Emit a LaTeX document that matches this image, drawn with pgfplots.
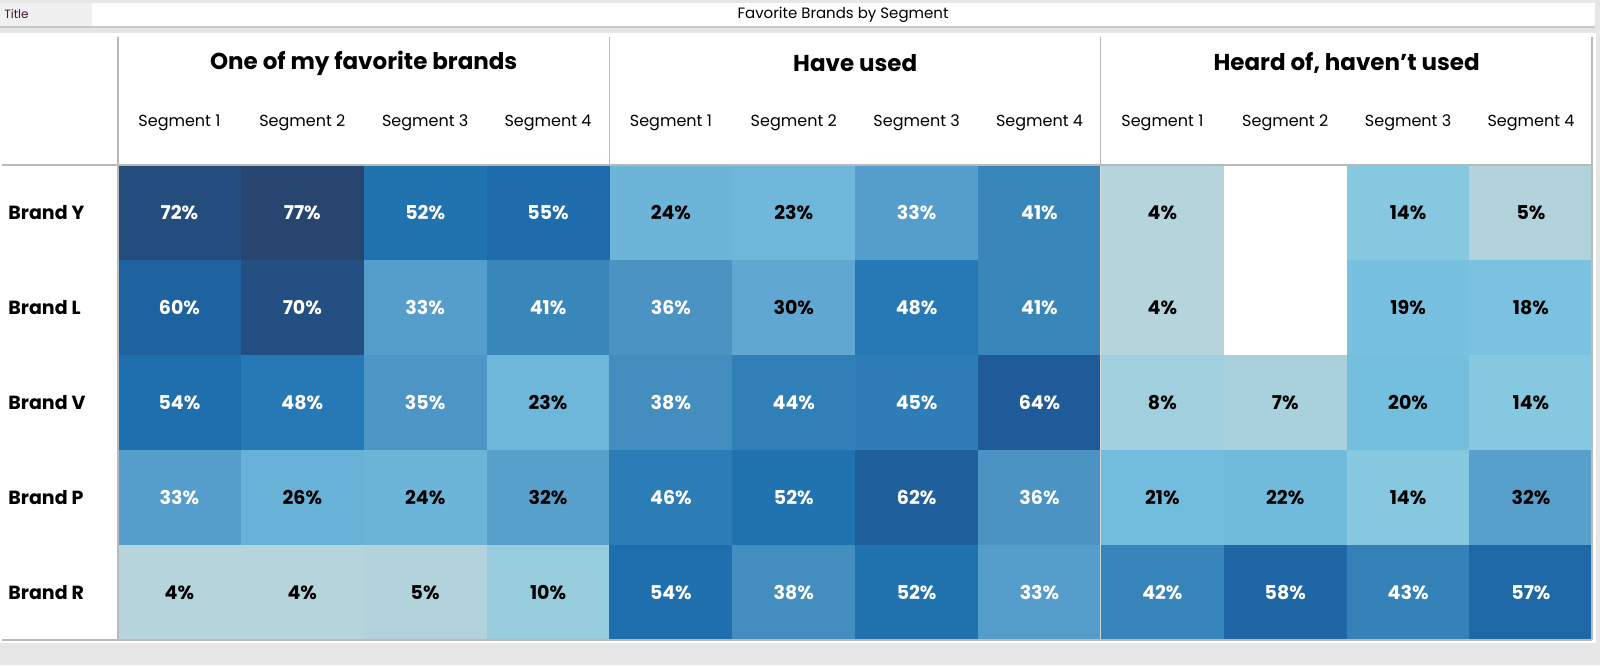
\documentclass[border=0pt]{standalone}
\usepackage{fontspec}
\setmainfont{Poppins}
\usepackage{pgfplots}
\usepackage{pgfplotstable}
\pgfplotsset{compat=1.18}
\definecolor{bggray}{RGB}{230,230,230}
\definecolor{linegray}{RGB}{185,185,185}
\definecolor{titlebox}{RGB}{240,240,240}
\definecolor{titletxt}{RGB}{70,20,60}
\definecolor{cellcol}{rgb}{1,1,1}
\pgfdeclareplotmark{nothing}{}
% x = column (0..11), y = row (4 = Brand Y ... 0 = Brand R), v = percent, r g b = cell shade
\pgfplotstableread{
x y v r g b
0 4 72 36 76 124
1 4 77 39 69 110
2 4 52 33 115 176
3 4 55 30 108 171
4 4 24 108 181 217
5 4 23 110 183 218
6 4 33 85 157 202
7 4 41 57 135 186
8 4 4 181 212 219
10 4 14 134 200 224
11 4 5 178 211 219
0 3 60 30 99 160
1 3 70 35 79 130
2 3 33 85 157 202
3 3 41 57 135 186
4 3 36 74 147 194
5 3 30 96 168 210
6 3 48 39 121 181
7 3 41 57 135 186
8 3 4 181 212 219
10 3 19 119 192 223
11 3 18 122 194 223
0 2 54 31 110 173
1 2 48 39 121 181
2 2 35 77 149 196
3 2 23 110 183 218
4 2 38 67 142 191
5 2 44 49 127 183
6 2 45 46 125 182
7 2 64 31 91 152
8 2 8 162 207 221
9 2 7 168 209 220
10 2 20 116 190 222
11 2 14 134 200 224
0 1 33 85 157 202
1 1 26 104 177 215
2 1 24 108 181 217
3 1 32 88 160 204
4 1 46 44 124 182
5 1 52 33 115 176
6 1 62 30 95 156
7 1 36 74 147 194
8 1 21 114 188 221
9 1 22 112 186 220
10 1 14 134 200 224
11 1 32 88 160 204
0 0 4 181 212 219
1 0 4 181 212 219
2 0 5 178 211 219
3 0 10 152 205 222
4 0 54 31 110 173
5 0 38 67 142 191
6 0 52 33 115 176
7 0 33 85 157 202
8 0 42 54 132 185
9 0 58 30 103 164
10 0 43 52 130 184
11 0 57 30 104 167
}\cells
\pgfplotsset{
  cellplot/.style={
    only marks, mark=nothing,
    visualization depends on={\thisrow{r}/255 \as \cellr},
    visualization depends on={\thisrow{g}/255 \as \cellg},
    visualization depends on={\thisrow{b}/255 \as \cellb},
    point meta=explicit,
    nodes near coords={\pgfmathprintnumber{\pgfplotspointmeta}\%},
    every node near coord/.append style={anchor=center, inner sep=0pt, draw=none,
      minimum width=61.5pt, minimum height=47.6pt,
      /utils/exec={\definecolor{cellcol}{rgb}{\cellr,\cellg,\cellb}},
      fill=cellcol,
      font=\fontsize{9.5}{11}\selectfont\bfseries},
  },
}
\begin{document}
\begin{tikzpicture}
\useasboundingbox (0,0) rectangle (800pt,-332.5pt);
\fill[bggray] (0,0) rectangle (800pt,-332.5pt);
% title bar
\fill[white] (0,-1.5pt) rectangle (797.5pt,-13pt);
\draw[black!22, line width=0.8pt] (0,-13.4pt) -- (797.5pt,-13.4pt);
\fill[titlebox] (0,-1.5pt) rectangle (46pt,-13pt);
\node[anchor=west, inner sep=0pt, text=titletxt, font=\fontsize{6}{7}\selectfont] at (2pt,-7.2pt) {Title};
\node[inner sep=0pt, font=\fontsize{7.5}{9}\selectfont] at (421.5pt,-7.2pt) {Favorite Brands by Segment};
% panel
\fill[white] (0,-16.5pt) rectangle (798pt,-321.5pt);
\begin{axis}[
  at={(59pt,-82.5pt)}, anchor=north west,
  scale only axis, width=737.2pt, height=237.5pt,
  xmin=-0.5, xmax=11.5, ymin=-0.5, ymax=4.5,
  axis line style={draw=none}, major tick length=0pt,
  /pgf/number format/assume math mode=true,
  xtick={0,...,11},
  xticklabels={Segment 1,Segment 2,Segment 3,Segment 4,Segment 1,Segment 2,Segment 3,Segment 4,Segment 1,Segment 2,Segment 3,Segment 4},
  xticklabel pos=upper,
  xticklabel style={anchor=center, yshift=21pt, inner sep=0pt, font=\fontsize{8}{9}\selectfont},
  ytick={0,...,4},
  yticklabels={Brand R,Brand P,Brand V,Brand L,Brand Y},
  yticklabel style={anchor=west, xshift=-55pt, inner sep=0pt, font=\fontsize{9.5}{11}\selectfont\bfseries},
  clip=false,
]
\addplot[cellplot, restrict expr to domain={\thisrow{v}}{0:32.5},
  every node near coord/.append style={text=black}]
  table[x=x, y=y, meta=v] {\cells};
\addplot[cellplot, restrict expr to domain={\thisrow{v}}{32.5:100},
  every node near coord/.append style={text=white}]
  table[x=x, y=y, meta=v] {\cells};
\node[font=\fontsize{11.5}{13}\selectfont\bfseries] at ([yshift=51pt]axis cs:1.5,4.5) {One of my favorite brands};
\node[font=\fontsize{11.5}{13}\selectfont\bfseries] at ([yshift=51pt]axis cs:5.5,4.5) {Have used};
\node[font=\fontsize{11.5}{13}\selectfont\bfseries] at ([yshift=51pt]axis cs:9.5,4.5) {Heard of, haven't used};
\end{axis}
% grid lines
\draw[linegray, line width=0.6pt] (59pt,-18.5pt) -- (59pt,-320pt);
\draw[linegray, line width=0.6pt] (304.6pt,-18.5pt) -- (304.6pt,-82.5pt);
\draw[linegray, line width=0.6pt] (550.4pt,-18.5pt) -- (550.4pt,-82.5pt);
\draw[linegray!60, line width=0.4pt] (550.4pt,-82.5pt) -- (550.4pt,-320pt);
\draw[linegray, line width=0.6pt] (796pt,-18.5pt) -- (796pt,-320pt);
\draw[linegray, line width=0.6pt] (1pt,-82.5pt) -- (796pt,-82.5pt);
\draw[linegray, line width=0.6pt] (1pt,-320pt) -- (796pt,-320pt);
\end{tikzpicture}
\end{document}
